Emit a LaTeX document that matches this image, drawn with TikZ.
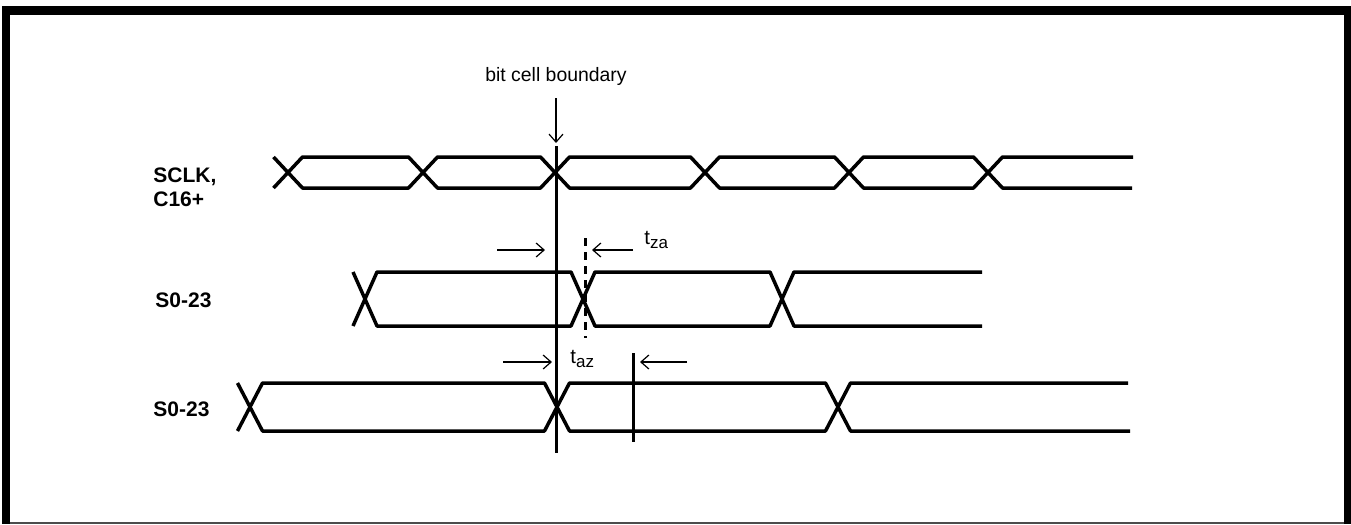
\documentclass[tikz,border=0pt]{standalone}
\usepackage{fontspec}
\setmainfont{Liberation Sans}
\usetikzlibrary{arrows.meta}
\begin{document}
\begin{tikzpicture}[x=0.5pt,y=-0.5pt,
  wave/.style={line width=1.75pt, line join=round},
  marker/.style={line width=1.5pt},
  thinarrow/.style={line width=0.6pt, -{Straight Barb[length=4pt,width=7pt]}},
  siglabel/.style={font=\fontsize{10.5}{12}\selectfont\bfseries, anchor=base west, inner sep=0pt},
  note/.style={font=\fontsize{9.7}{11}\selectfont, inner sep=0pt},
  tlabel/.style={font=\fontsize{10.2}{12}\selectfont, inner sep=0pt, anchor=base west}]
\useasboundingbox (0,0) rectangle (1351,525);
% frame
\fill[black] (2,6) rectangle (1351,15);
\fill[black] (2,6) rectangle (10,524);
\fill[black] (1344,6) rectangle (1351,524);
\draw[line width=0.6pt, black!70] (10,523) -- (1344,523);

% SCLK, C16+
\draw[wave] (273.5,157) -- (288,172.5) -- (273.5,188);
\foreach \a/\b in {288/423, 423/555, 555/705, 705/849, 849/988}
  \draw[wave] (\a,172.5) -- (\a+14.5,157) -- (\b-14.5,157) -- (\b,172.5) -- (\b-14.5,188) -- (\a+14.5,188) -- cycle;
\draw[wave] (1133,157) -- (1002.5,157) -- (988,172.5) -- (1002.5,188) -- (1132,188);

% S0-23 (first)
\draw[wave] (353,272) -- (365,299) -- (353,326);
\foreach \a/\b in {365/583, 583/782}
  \draw[wave] (\a,299) -- (\a+12,272) -- (\b-12,272) -- (\b,299) -- (\b-12,326) -- (\a+12,326) -- cycle;
\draw[wave] (982,272) -- (794,272) -- (782,299) -- (794,326) -- (982,326);

% S0-23 (second)
\draw[wave] (237.5,383) -- (250,407) -- (237.5,431);
\foreach \a/\b in {250/557, 557/838}
  \draw[wave] (\a,407) -- (\a+12.5,383) -- (\b-12.5,383) -- (\b,407) -- (\b-12.5,431) -- (\a+12.5,431) -- cycle;
\draw[wave] (1128,383) -- (850.5,383) -- (838,407) -- (850.5,431) -- (1130,431);

% bit cell boundary
\node[note, anchor=base] (bcb) at (556,81) {bit cell boundary};
\coordinate (bcbfrom) at (556,98);
\coordinate (bcbto) at (556,143);
\draw[thinarrow] (bcbfrom) -- (bcbto);
\coordinate (bndtop) at (556,146);
\coordinate (bndbot) at (556,453);
\draw[marker] (bndtop) -- (bndbot);

% tza
\coordinate (dtop) at (585,238);
\coordinate (dbot) at (585,338);
\draw[marker, dash pattern=on 4pt off 3pt] (dtop) -- (dbot);
\coordinate (za1) at (497,250);
\coordinate (za1e) at (545,250);
\coordinate (za2) at (633,250);
\coordinate (za2e) at (592,250);
\draw[thinarrow] (za1) -- (za1e);
\draw[thinarrow] (za2) -- (za2e);
\node[tlabel] (tza) at (644,244) {t\lower2pt\hbox{\fontsize{8.5}{10}\selectfont za}};

% taz
\coordinate (vtop) at (633,353);
\coordinate (vbot) at (633,442);
\draw[marker] (vtop) -- (vbot);
\coordinate (az1) at (503,362);
\coordinate (az1e) at (552,362);
\coordinate (az2) at (687,362);
\coordinate (az2e) at (640,362);
\draw[thinarrow] (az1) -- (az1e);
\draw[thinarrow] (az2) -- (az2e);
\node[tlabel] (taz) at (570,363) {t\lower2pt\hbox{\fontsize{8.5}{10}\selectfont az}};

% signal labels
\node[siglabel] (l1) at (153,182) {SCLK,};
\node[siglabel] (l2) at (153,206) {C16+};
\node[siglabel] (l3) at (155,307) {S0-23};
\node[siglabel] (l4) at (153,416) {S0-23};
\end{tikzpicture}
\end{document}
